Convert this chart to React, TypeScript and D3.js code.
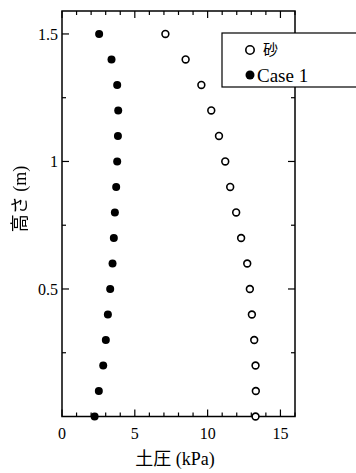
import React from "react";
import * as d3 from "d3";

const heights = [0, 0.1, 0.2, 0.3, 0.4, 0.5, 0.6, 0.7, 0.8, 0.9, 1.0, 1.1, 1.2, 1.3, 1.4, 1.5];
const sandValues = [13.29, 13.31, 13.29, 13.2, 13.04, 12.9, 12.72, 12.3, 11.96, 11.55, 11.21, 10.78, 10.25, 9.57, 8.49, 7.1];
const case1Values = [2.24, 2.53, 2.83, 3.01, 3.15, 3.31, 3.47, 3.56, 3.63, 3.72, 3.79, 3.84, 3.86, 3.79, 3.4, 2.55];
const xTicks = [0, 5, 10, 15];
const yTicks = [0.5, 1, 1.5];
const legendLabels = ["砂", "Case 1"];

export default function App() {
  const W = 356, H = 473;
  const left = 62, right = 295, top = 11, bottom = 416.5;
  const x = d3.scaleLinear().domain([0, 16]).range([left, right]);
  const y = d3.scaleLinear().domain([0, 1.59]).range([bottom, top]);
  const font = "'Liberation Serif', 'Times New Roman', serif";
  const cjk = "'Noto Sans CJK JP', sans-serif";
  const xMinor = d3.range(0, 16.01, 1);
  const yMinor = d3.range(0.25, 1.59, 0.25);
  return (
    <svg width={W} height={H} style={{ position: "absolute", left: 0, top: 0, background: "#fff" }}>
      <rect x={left} y={top} width={right - left} height={bottom - top} fill="none" stroke="#000" strokeWidth={1.5} />
      {xMinor.map((v) => {
        const major = xTicks.includes(v);
        const len = major ? 7 : 4;
        return (
          <g key={"xt" + v}>
            <line x1={x(v)} x2={x(v)} y1={bottom} y2={bottom - len} stroke="#000" strokeWidth={1.2} />
            <line x1={x(v)} x2={x(v)} y1={top} y2={top + len} stroke="#000" strokeWidth={1.2} />
          </g>
        );
      })}
      {yMinor.map((v) => {
        const major = yTicks.some((t) => Math.abs(t - v) < 1e-6);
        const len = major ? 7 : 4;
        return (
          <g key={"yt" + v}>
            <line x1={left} x2={left + len} y1={y(v)} y2={y(v)} stroke="#000" strokeWidth={1.2} />
            <line x1={right} x2={right - len} y1={y(v)} y2={y(v)} stroke="#000" strokeWidth={1.2} />
          </g>
        );
      })}
      {xTicks.map((v) => (
        <text key={"xl" + v} x={x(v)} y={bottom + 22} textAnchor="middle" fontFamily={font} fontSize={16} fill="#000">{v}</text>
      ))}
      {yTicks.map((v) => (
        <text key={"yl" + v} x={left - 4} y={y(v)} dy="0.35em" textAnchor="end" fontFamily={font} fontSize={16} fill="#000">{v}</text>
      ))}
      <text x={175} y={465} textAnchor="middle" fontFamily={font} fontSize={18} fill="#000">
        <tspan fontFamily={cjk} fontSize={18}>土圧</tspan> (kPa)
      </text>
      <g opacity={0.999} style={{ willChange: "transform" }}>
        <text transform={`translate(26, 199) rotate(-90)`} textAnchor="middle" fontFamily={font} fontSize={18} fill="#000">
          <tspan fontFamily={cjk} fontSize={18}>高さ</tspan> (m)
        </text>
      </g>
      {heights.map((h, i) => (
        <circle key={"s" + i} cx={x(sandValues[i])} cy={y(h)} r={3.4} fill="#fff" stroke="#000" strokeWidth={1.6} />
      ))}
      {heights.map((h, i) => (
        <circle key={"c" + i} cx={x(case1Values[i])} cy={y(h)} r={4} fill="#000" />
      ))}
      <rect x={222} y={33} width={140} height={54} fill="#fff" stroke="#000" strokeWidth={1.2} />
      <circle cx={250} cy={50} r={4.2} fill="#fff" stroke="#000" strokeWidth={1.6} />
      <text x={263} y={50} dy="0.35em" fontFamily={cjk} fontSize={15} fill="#000">{legendLabels[0]}</text>
      <circle cx={250} cy={75} r={4.5} fill="#000" />
      <text x={257} y={75} dy="0.35em" fontFamily={font} fontSize={19} fill="#000">{legendLabels[1]}</text>
    </svg>
  );
}
